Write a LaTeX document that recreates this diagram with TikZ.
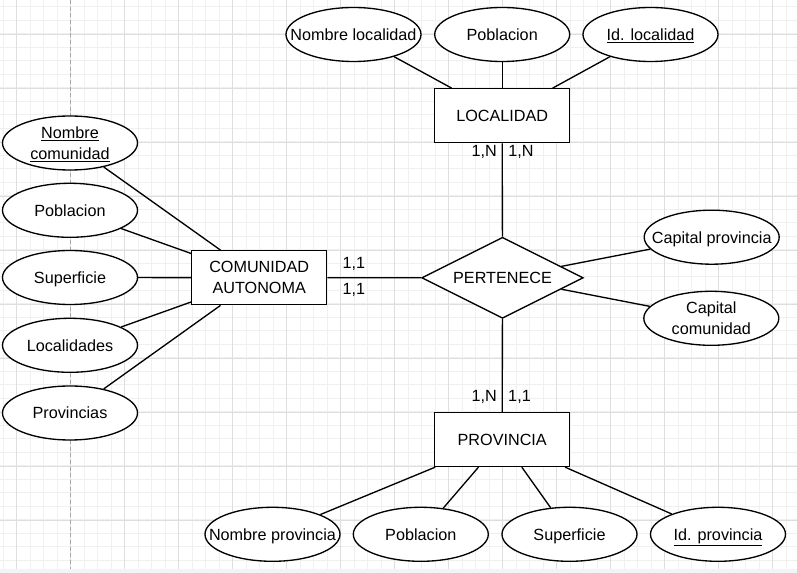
\documentclass[tikz,border=0pt]{standalone}
\usepackage{fontspec}
\setmainfont{Liberation Sans}
\usetikzlibrary{shapes.geometric}
\definecolor{gminor}{HTML}{F0F0F0}
\definecolor{gmajor}{HTML}{DEDEDE}
\definecolor{pagebrk}{HTML}{A8A8A8}
\definecolor{botstrip}{HTML}{F3F4F7}
\newcommand\zt[1]{\smash{\makebox[0pt]{\raisebox{-4.3pt}{\begin{tabular}{@{}c@{}}#1\end{tabular}}}}}
\tikzset{
  base/.style={font=\fontsize{12.15}{16}\selectfont, inner sep=0pt},
  attr/.style={base, draw, ellipse, line width=1pt, fill=white, minimum width=101.25pt, minimum height=40.5pt},
  entity/.style={base, align=center, draw, rectangle, line width=1pt, fill=white, minimum width=101.25pt, minimum height=40.5pt},
  rel/.style={base, draw, diamond, aspect=2, line width=1pt, fill=white, minimum width=121.2pt, minimum height=60.75pt},
  card/.style={base},
  link/.style={line width=1pt},
  gridminor/.style={gminor, line width=0.6pt},
  gridmajor/.style={gmajor, line width=0.6pt}
}
\begin{document}
\begin{tikzpicture}[x=0.75pt, y=-0.75pt]
\useasboundingbox (0,0) rectangle (797,573);
\fill[white] (0,0) rectangle (797,573);
% grid
\foreach \k in {-1,...,58} {
  \pgfmathsetmacro\xx{16.7+13.5*\k}
  \draw[gridminor] (\xx,0) -- (\xx,569);
}
\foreach \k in {0,...,41} {
  \pgfmathsetmacro\yy{6.7+13.5*\k}
  \draw[gridminor] (0,\yy) -- (797,\yy);
}
\foreach \k in {0,...,14} {
  \pgfmathsetmacro\xx{16.7+54*\k}
  \draw[gridmajor] (\xx,0) -- (\xx,569);
}
\foreach \k in {0,...,9} {
  \pgfmathsetmacro\yy{34+54*\k}
  \draw[gridmajor] (0,\yy) -- (797,\yy);
}
\draw[pagebrk, line width=0.6pt, dash pattern=on 3pt off 2pt] (70.3,0) -- (70.3,569);
\fill[botstrip] (0,569) rectangle (797,573);

% entities and relation
\node[entity] (loc) at (502.2,115.8) {LOCALIDAD};
\node[entity] (ca) at (259.2,277.7) {COMUNIDAD\\AUTONOMA};
\node[entity] (prov) at (502.2,439.5) {PROVINCIA};
\node[rel] (per) at (502.5,277.8) {PERTENECE};

% attributes
\node[attr] (nl) at (353.5,34.5) {\zt{Nombre localidad}};
\node[attr] (pl) at (502.2,34.5) {\zt{Poblacion}};
\node[attr] (il) at (650.5,34.5) {\zt{\underline{Id. localidad}}};
\node[attr] (nc) at (70,143) {\zt{\underline{Nombre}\\\underline{comunidad}}};
\node[attr] (pc) at (70,210.3) {\zt{Poblacion}};
\node[attr] (sc) at (70,277.5) {\zt{Superficie}};
\node[attr] (lc) at (70,345.3) {\zt{Localidades}};
\node[attr] (prc) at (70,413) {\zt{Provincias}};
\node[attr] (cp) at (711.7,237.2) {\zt{Capital provincia}};
\node[attr] (cc) at (711.3,318.3) {\zt{Capital\\comunidad}};
\node[attr] (np) at (272.5,534.3) {\zt{Nombre provincia}};
\node[attr] (pp) at (420.8,534.3) {\zt{Poblacion}};
\node[attr] (sp) at (569.5,534.3) {\zt{Superficie}};
\node[attr] (ip) at (718,534.3) {\zt{\underline{Id. provincia}}};

% connectors
\draw[link] (nl) -- (loc);
\draw[link] (pl) -- (loc);
\draw[link] (il) -- (loc);
\draw[link] (nc) -- (ca);
\draw[link] (pc) -- (ca);
\draw[link] (sc) -- (ca);
\draw[link] (lc) -- (ca);
\draw[link] (prc) -- (ca);
\draw[link] (ca) -- (per);
\draw[link] (loc) -- (per);
\draw[link] (per) -- (prov);
\draw[link] (per) -- (cp);
\draw[link] (per) -- (cc);
\draw[link] (np) -- (prov);
\draw[link] (pp) -- (prov);
\draw[link] (sp) -- (prov);
\draw[link] (ip) -- (prov);

% cardinalities
\node[card] (c1) at (353.8,264) {1,1};
\node[card] (c2) at (353.8,290) {1,1};
\node[card] (c3) at (484.3,151.5) {1,N};
\node[card] (c4) at (521,151.5) {1,N};
\node[card] (c5) at (484.3,396.5) {1,N};
\node[card] (c6) at (519.5,396.5) {1,1};
\end{tikzpicture}
\end{document}
